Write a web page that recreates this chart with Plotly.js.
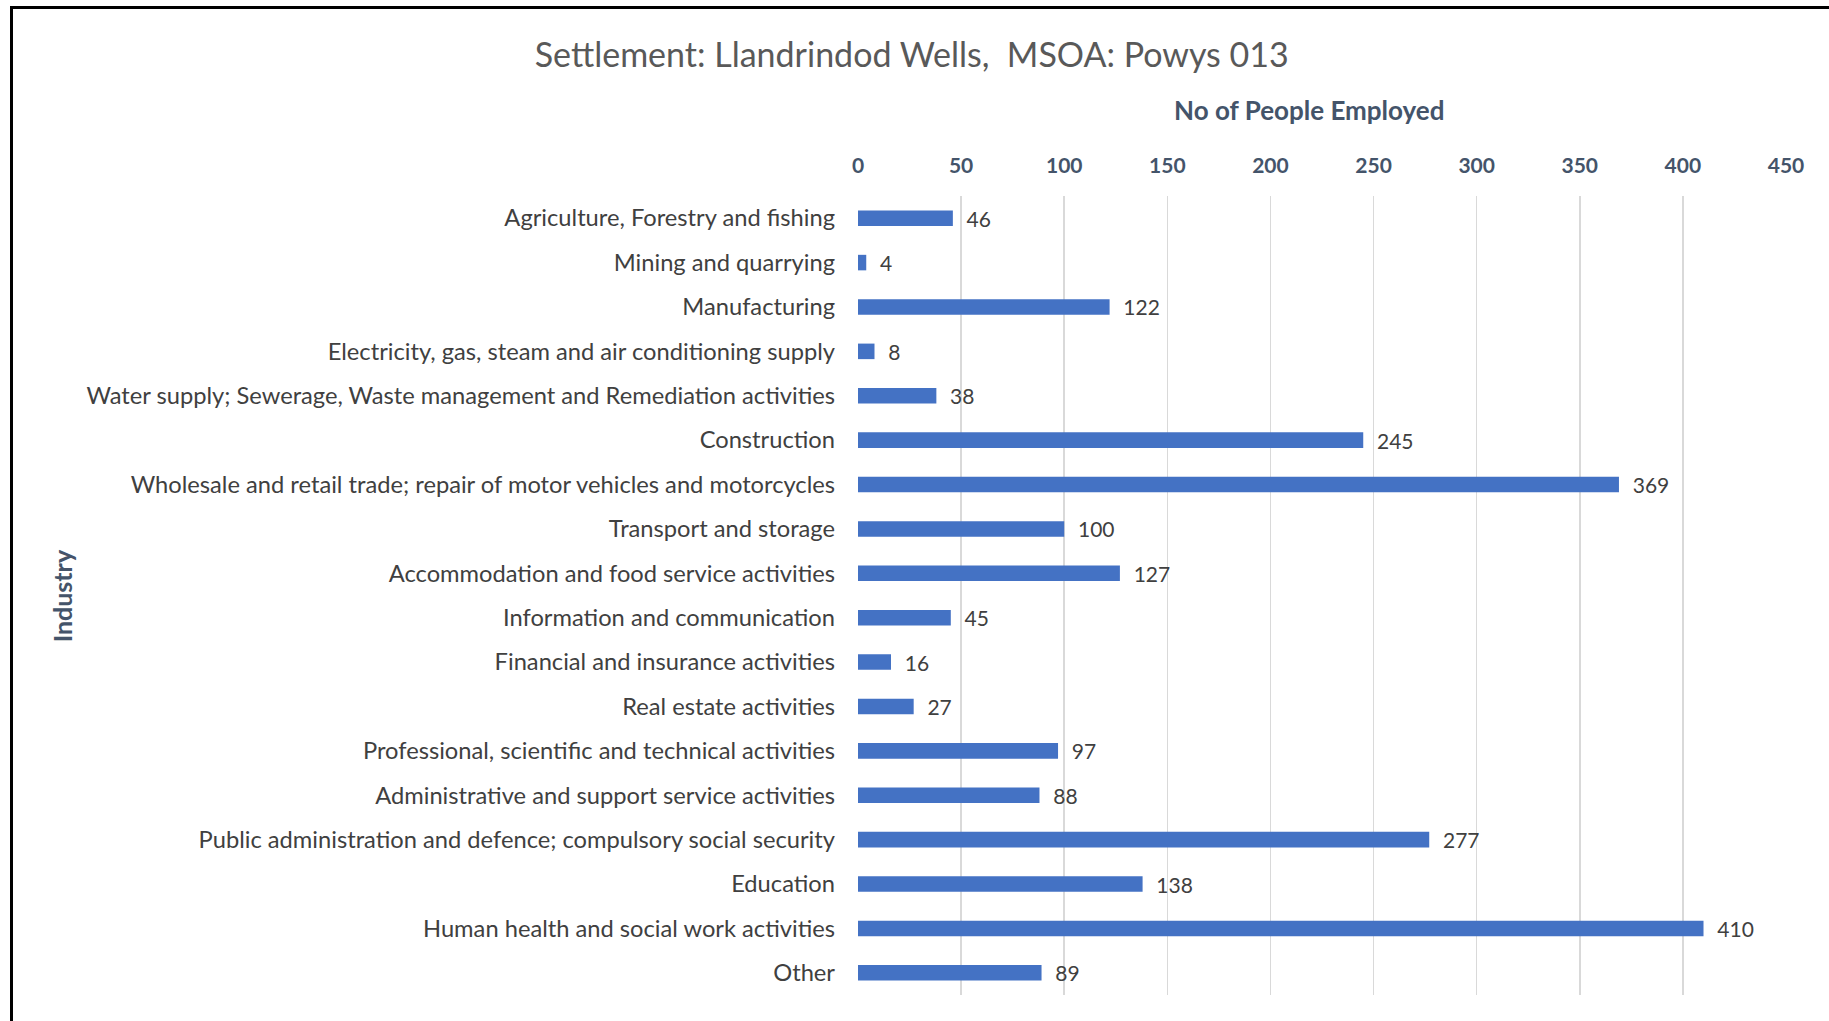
<!DOCTYPE html>
<html>
<head>
<meta charset="utf-8">
<script src="https://cdn.plot.ly/plotly-3.0.1.min.js"></script>
<style>
  html, body { margin: 0; padding: 0; background: #fff; }
  #chart { width: 1829px; height: 1021px; }
  #frame { position: absolute; left: 10px; top: 6px; width: 1829px; height: 1030px;
           border-left: 3px solid #000; border-top: 3px solid #000; pointer-events: none; }
</style>
</head>
<body>
<div id="chart"></div>
<div id="frame"></div>
<script>
const industries = [
  "Agriculture, Forestry and fishing",
  "Mining and quarrying",
  "Manufacturing",
  "Electricity, gas, steam and air conditioning supply",
  "Water supply; Sewerage, Waste management and Remediation activities",
  "Construction",
  "Wholesale and retail trade; repair of motor vehicles and motorcycles",
  "Transport and storage",
  "Accommodation and food service activities",
  "Information and communication",
  "Financial and insurance activities",
  "Real estate activities",
  "Professional, scientific and technical activities",
  "Administrative and support service activities",
  "Public administration and defence; compulsory social security",
  "Education",
  "Human health and social work activities",
  "Other"
];
const employed = [46, 4, 122, 8, 38, 245, 369, 100, 127, 45, 16, 27, 97, 88, 277, 138, 410, 89];
const xTicks = [0, 50, 100, 150, 200, 250, 300, 350, 400, 450];

const FONT = "Lato, 'Open Sans', sans-serif";

const trace = {
  type: 'bar',
  orientation: 'h',
  y: industries,
  x: employed,
  marker: { color: '#4472C4', line: { width: 0 } },
  text: employed.map(v => '\u00A0\u00A0' + v),
  textposition: 'outside',
  constraintext: 'none',
  textfont: { family: FONT, size: 21, color: '#404040' },
  cliponaxis: false,
  hoverinfo: 'x+y'
};

const layout = {
  width: 1829, height: 1021,
  paper_bgcolor: '#ffffff', plot_bgcolor: '#ffffff',
  margin: { l: 858, r: 43, t: 196, b: 26 },
  showlegend: false,
  bargap: 0.65,
  title: {
    text: 'Settlement: Llandrindod Wells,  MSOA: Powys 013',
    font: { family: FONT, size: 34, color: '#595959' },
    x: 0.4985, xanchor: 'center', y: 0.946, yanchor: 'middle'
  },
  xaxis: {
    side: 'top',
    range: [0, 450],
    tickvals: xTicks,
    ticktext: xTicks.map(String),
    showgrid: true, gridcolor: '#D9D9D9', gridwidth: 1.5,
    zeroline: false, showline: false, ticks: '',
    ticklabelstandoff: 18,
    tickfont: { family: FONT, size: 21, color: '#44546A', weight: 'bold' }
  },
  yaxis: {
    type: 'category',
    autorange: 'reversed',
    showgrid: false, zeroline: false, showline: false, ticks: '',
    ticklabelstandoff: 22,
    tickfont: { family: FONT, size: 23.7, color: '#404040' }
  },
  annotations: [
    {
      text: 'No of People Employed', xref: 'paper', yref: 'paper',
      x: 0.486, y: 1.1076, xanchor: 'center', yanchor: 'middle', showarrow: false,
      font: { family: FONT, size: 26, color: '#44546A', weight: 'bold' }
    },
    {
      text: 'Industry', xref: 'paper', yref: 'paper', textangle: -90,
      x: -0.858, y: 0.5, xanchor: 'center', yanchor: 'middle', showarrow: false,
      font: { family: FONT, size: 25, color: '#44546A', weight: 'bold' }
    }
  ]
};

Plotly.newPlot('chart', [trace], layout, { displayModeBar: false, staticPlot: true });
</script>
</body>
</html>
